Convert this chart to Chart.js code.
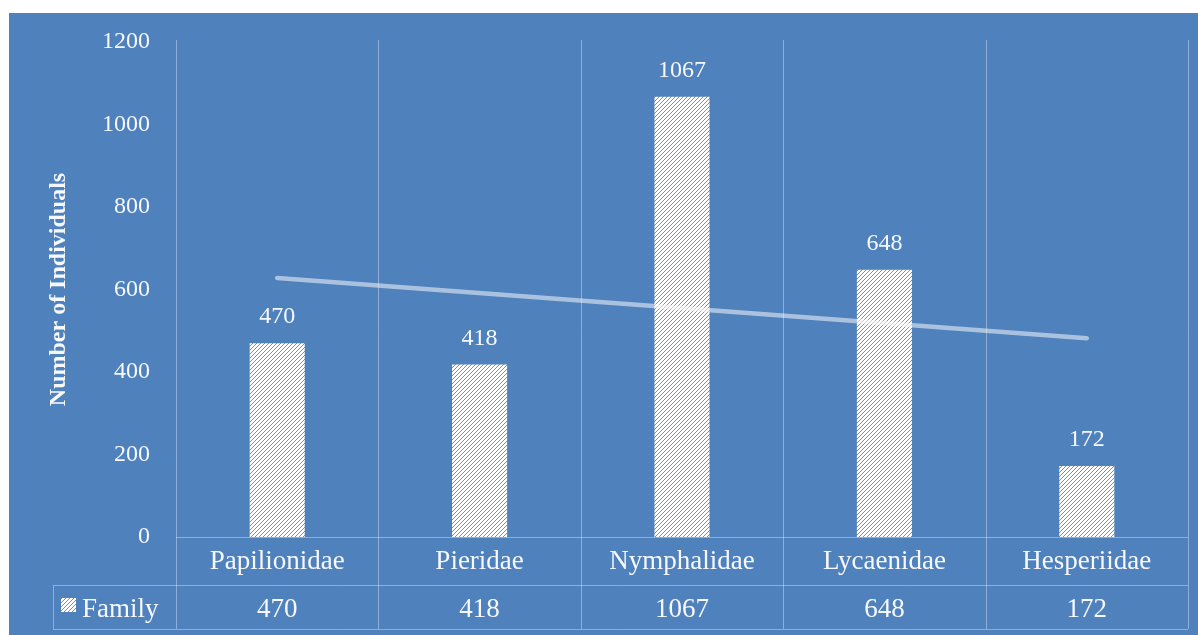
<!DOCTYPE html>
<html>
<head>
<meta charset="utf-8">
<script src="https://cdn.jsdelivr.net/npm/chart.js@4.4.1/dist/chart.umd.min.js"></script>
<style>
  html, body { margin: 0; padding: 0; background: #ffffff; overflow: hidden; }
  #wrap { position: absolute; left: 0; top: 0; width: 1198px; height: 635px; }
</style>
</head>
<body>
<div id="wrap"><canvas id="c" width="1198" height="635"></canvas></div>
<script>
// Butterfly families and counts of individuals
const families = ['Papilionidae', 'Pieridae', 'Nymphalidae', 'Lycaenidae', 'Hesperiidae'];
const individuals = [470, 418, 1067, 648, 172];
// Linear trend line, value at first and last family
const trendEnds = [628, 482];
const yTicks = [0, 200, 400, 600, 800, 1000, 1200];
const seriesName = 'Family';
const yTitle = 'Number of Individuals';

const BLUE = '#4f81bd';
const INK = '#f6f8fb';
const RULE = 'rgba(255,255,255,0.36)';
const FONT = "'Liberation Serif', 'Times New Roman', serif";

const canvas = document.getElementById('c');
const ctx = canvas.getContext('2d');

// white diagonal hatch with thin blue lines
function makeHatch(c) {
  const t = document.createElement('canvas');
  t.width = 8; t.height = 8;
  const g = t.getContext('2d');
  g.fillStyle = '#ffffff';
  g.fillRect(0, 0, 8, 8);
  for (let y = 0; y < 8; y++) {
    for (let x = 0; x < 8; x++) {
      if ((x + y) % 4 === 3) {
        g.fillStyle = 'rgba(79,129,189,0.85)';
        g.fillRect(x, y, 1, 1);
      }
    }
  }
  return c.createPattern(t, 'repeat');
}
const hatch = makeHatch(ctx);

const panel = {
  id: 'panel',
  beforeDraw(chart) {
    const c = chart.ctx;
    c.save();
    c.fillStyle = '#ffffff';
    c.fillRect(0, 0, chart.width, chart.height);
    c.fillStyle = BLUE;
    c.fillRect(9, 13, chart.width - 9, chart.height - 13);
    c.restore();
  }
};

function columnEdges(chart) {
  const xs = chart.scales.x;
  const w = (xs.right - xs.left) / families.length;
  const edges = [];
  for (let i = 0; i <= families.length; i++) edges.push(xs.left + i * w);
  return edges;
}

// category boundaries and the data table rules
const tableRules = {
  id: 'tableRules',
  beforeDatasetsDraw(chart) {
    const c = chart.ctx;
    const area = chart.chartArea;
    const xs = chart.scales.x;
    const ys = chart.scales.y;
    const edges = columnEdges(chart);
    const rowTop = xs.bottom;
    const rowBottom = rowTop + 44;
    const tableLeft = 53;
    c.save();
    c.strokeStyle = RULE;
    c.lineWidth = 1;
    c.beginPath();
    edges.forEach(x => {
      const px = Math.round(x) + 0.5;
      c.moveTo(px, area.top - 2);
      c.lineTo(px, rowBottom);
    });
    const y0 = Math.round(ys.getPixelForValue(0)) + 0.5;
    c.moveTo(edges[0], y0);
    c.lineTo(edges[edges.length - 1], y0);
    const y1 = Math.round(rowTop) + 0.5;
    c.moveTo(tableLeft, y1);
    c.lineTo(edges[edges.length - 1], y1);
    const y2 = Math.round(rowBottom) + 0.5;
    c.moveTo(tableLeft, y2);
    c.lineTo(edges[edges.length - 1], y2);
    c.moveTo(tableLeft + 0.5, y1);
    c.lineTo(tableLeft + 0.5, y2);
    c.stroke();
    c.restore();
  }
};

// value labels above bars and the values row of the table
const labels = {
  id: 'labels',
  afterDatasetsDraw(chart) {
    const c = chart.ctx;
    const xs = chart.scales.x;
    const meta = chart.getDatasetMeta(0);
    c.save();
    c.fillStyle = INK;
    c.textAlign = 'center';
    c.textBaseline = 'alphabetic';
    c.font = '24px ' + FONT;
    meta.data.forEach((bar, i) => {
      c.fillText(String(individuals[i]), bar.x, bar.y - 20);
    });
    const base = xs.bottom + 32;
    c.font = '27px ' + FONT;
    individuals.forEach((v, i) => {
      c.fillText(String(v), xs.getPixelForValue(i), base);
    });
    // series key
    c.fillStyle = hatch;
    c.fillRect(61, base - 19, 15, 14);
    c.fillStyle = INK;
    c.textAlign = 'left';
    c.fillText(seriesName, 82, base);
    c.restore();
  }
};

new Chart(ctx, {
  data: {
    labels: families,
    datasets: [
      {
        type: 'bar',
        label: seriesName,
        data: individuals,
        backgroundColor: hatch,
        borderWidth: 0,
        barPercentage: 0.272,
        categoryPercentage: 1,
        order: 1
      },
      {
        type: 'line',
        label: 'Linear (Family)',
        data: [trendEnds[0], null, null, null, trendEnds[1]],
        spanGaps: true,
        borderColor: 'rgba(255,255,255,0.52)',
        borderWidth: 4.5,
        borderCapStyle: 'round',
        pointRadius: 0,
        pointHoverRadius: 0,
        tension: 0,
        order: 0
      }
    ]
  },
  options: {
    responsive: false,
    devicePixelRatio: 1,
    animation: false,
    events: [],
    layout: { padding: { left: 30, top: 42, right: 10, bottom: 50 } },
    plugins: {
      legend: { display: false },
      tooltip: { enabled: false }
    },
    scales: {
      x: {
        type: 'category',
        offset: true,
        grid: { display: false, drawTicks: false },
        border: { display: false },
        ticks: {
          color: INK,
          font: { family: FONT, size: 27 },
          padding: 9,
          maxRotation: 0,
          autoSkip: false
        },
        afterFit(scale) { scale.height = 48; }
      },
      y: {
        min: 0,
        max: 1200,
        grid: { display: false, drawTicks: false },
        border: { display: false },
        afterBuildTicks(scale) { scale.ticks = yTicks.map(v => ({ value: v })); },
        ticks: {
          color: INK,
          font: { family: FONT, size: 24 },
          padding: 26,
          callback: v => String(v)
        },
        title: {
          display: true,
          text: yTitle,
          color: INK,
          font: { family: FONT, size: 24, weight: 'bold' },
          padding: { top: 14, bottom: 0 }
        },
        afterFit(scale) { scale.width = 176 - 30; }
      }
    }
  },
  plugins: [panel, tableRules, labels]
});
</script>
</body>
</html>
